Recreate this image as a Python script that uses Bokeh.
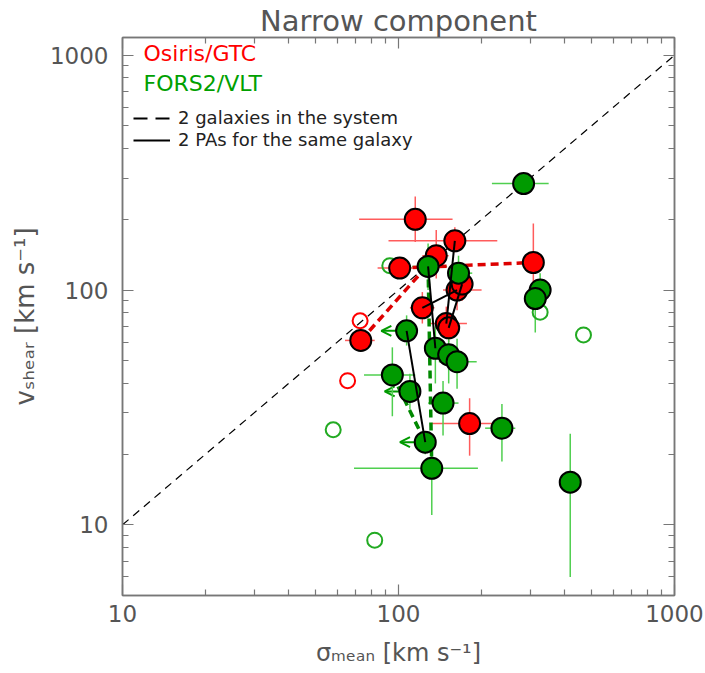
import math
from bokeh.plotting import figure
from bokeh.models import (LogAxis, FixedTicker, Label, Legend, LegendItem, Arrow,
                          OpenHead, ColumnDataSource, NumeralTickFormatter,
                          CustomJSTickFormatter)
from bokeh.embed import file_html
from bokeh.resources import INLINE

FONT = "DejaVu Sans"

# ---- Osiris/GTC: filled symbols (sigma_mean, v_shear) with error ranges ----
osiris_sigma    = [115, 160, 137, 101, 308, 163, 170, 122, 149, 152, 73, 181]
osiris_vshear   = [200, 162, 140, 124, 131, 100, 106, 84, 72, 69, 61, 27]
osiris_sigma_lo = [72, 92, 122, 84, 295, 145, 158, 110, 129, 140, 64, 132]
osiris_sigma_hi = [157, 228, 152, 118, 320, 200, 185, 135, 177, 165, 82, 218]
osiris_v_lo     = [160, 145, 112, 115, 92, 82, 90, 72, 62, 60, 57, 19.7]
osiris_v_hi     = [250, 185, 180, 134, 192, 112, 120, 98, 85, 80, 65, 34.6]
# Osiris/GTC: open symbols
osiris_open_sigma  = [72.6, 65.4]
osiris_open_vshear = [74, 41.1]
# index pairs: two PAs of one galaxy / two galaxies of one system
osiris_pa_pairs     = [(7, 5), (8, 1), (9, 6)]
osiris_system_pairs = [(3, 4), (10, 2)]

# ---- FORS2/VLT: filled symbols ----
fors_sigma    = [284, 128, 165, 326, 313, 107, 136, 152, 163, 95, 110, 145, 237, 125, 132, 419]
fors_vshear   = [284, 126, 118, 100, 92, 67, 56.5, 53, 49.5, 43.5, 37, 33, 25.8, 22.5, 17.4, 15.2]
fors_sigma_lo = [218, 112, 150, 310, 300, 107, 125, 140, 140, 75, 110, 128, 206, 125, 69, 405]
fors_sigma_hi = [350, 150, 185, 340, 325, 107, 148, 165, 192, 115, 110, 165, 265, 125, 194, 433]
fors_v_lo     = [265, 100, 100, 85, 66, 58, 40, 40, 38, 29, 31, 24, 18.6, 20, 11, 6.0]
fors_v_hi     = [305, 158, 140, 118, 110, 78, 70, 62, 62, 57, 44, 41, 32.7, 25, 23, 24.4]
fors_upper    = [False, False, False, False, False, True, False, False, False, False,
                 True, False, False, True, False, False]
# FORS2/VLT: open symbols
fors_open_sigma  = [93, 326, 468, 58, 82]
fors_open_vshear = [127, 80.4, 64.4, 25.4, 8.6]
fors_pa_pairs     = [(1, 6), (5, 13)]
fors_system_pairs = [(9, 13), (1, 14)]

# one-to-one reference line
one_to_one = [10, 1000]

RED, RED_ERR = "#ff0000", "#ff5c5c"
GREEN, GREEN_ERR, GREEN_TXT = "#009a00", "#4fcf4f", "#00a000"
GREY = "#555555"

# frame placement inside the 705 x 673 canvas
F_LEFT, F_TOP, F_RIGHT, F_BOTTOM = 122, 37, 674, 595

p = figure(width=705, height=673, x_axis_type="log", y_axis_type="log",
           x_range=(10, 1000), y_range=(5, 1190),
           output_backend="svg", toolbar_location=None,
           min_border_left=F_LEFT, min_border_right=705 - F_RIGHT,
           min_border_top=F_TOP, min_border_bottom=673 - F_BOTTOM)
p.grid.visible = False
p.outline_line_color = "#777777"
p.outline_line_width = 1.5

p.title.text = "Narrow component"
p.title.align = "center"
p.title.text_font = FONT
p.title.text_font_size = "29px"
p.title.text_font_style = "normal"
p.title.text_color = GREY
p.title.text_line_height = 0.7
p.title.standoff = 0
p.title.offset = 0

xt = FixedTicker(ticks=[10, 100, 1000],
                 minor_ticks=[m * d for d in (10, 100) for m in range(2, 10)])
yt = FixedTicker(ticks=[10, 100, 1000],
                 minor_ticks=[m * d for d in (1, 10, 100) for m in range(2, 10) if m * d >= 5])


def style_axis(ax, ticker, labels):
    ax.ticker = ticker
    ax.axis_line_color = "#777777"
    ax.axis_line_width = 1.5
    ax.major_tick_line_color = "#777777"
    ax.minor_tick_line_color = "#777777"
    ax.major_tick_line_width = 1.2
    ax.minor_tick_line_width = 1.2
    ax.major_tick_in, ax.major_tick_out = 11, 0
    ax.minor_tick_in, ax.minor_tick_out = 6, 0
    if labels:
        ax.formatter = NumeralTickFormatter(format="0")
        ax.major_label_text_font = FONT
        ax.major_label_text_font_size = "23px"
        ax.major_label_text_color = GREY
        ax.axis_label_text_font = FONT
        ax.axis_label_text_font_style = "normal"
        ax.axis_label_text_color = GREY
    else:
        ax.formatter = CustomJSTickFormatter(code="return ''")
        ax.major_label_text_font_size = "0px"
        ax.major_label_standoff = 0


style_axis(p.xaxis[0], xt, True)
p.xaxis[0].major_label_standoff = 9
p.xaxis[0].axis_label = "\u03c3\u2098\u2091\u2090\u2099 [km s\u207b\u00b9]"
p.xaxis[0].axis_label_text_font_size = "24px"
p.xaxis[0].axis_label_standoff = 14
style_axis(p.yaxis[0], yt, True)
p.yaxis[0].major_label_standoff = 14
p.yaxis[0].axis_label = "v\u209b\u2095\u2091\u2090\u1d63 [km s\u207b\u00b9]"
p.yaxis[0].axis_label_text_font_size = "26px"
p.yaxis[0].axis_label_standoff = 7

top_ax = LogAxis()
style_axis(top_ax, xt, False)
p.add_layout(top_ax, "above")
right_ax = LogAxis()
style_axis(right_ax, yt, False)
p.add_layout(right_ax, "right")

# 1:1 line
p.line(one_to_one, one_to_one, line_color="black", line_width=1.2, line_dash="8 6")

# error bars
for s, v, slo, shi, vlo, vhi, col in (
        (osiris_sigma, osiris_vshear, osiris_sigma_lo, osiris_sigma_hi, osiris_v_lo, osiris_v_hi, RED_ERR),
        (fors_sigma, fors_vshear, fors_sigma_lo, fors_sigma_hi, fors_v_lo, fors_v_hi, GREEN_ERR)):
    p.segment(x0=slo, y0=v, x1=shi, y1=v, line_color=col, line_width=1.5)
    p.segment(x0=s, y0=vlo, x1=s, y1=vhi, line_color=col, line_width=1.5)

# upper limits on sigma: arrows pointing left
lim = [i for i, u in enumerate(fors_upper) if u]
arr_src = ColumnDataSource(dict(
    x0=[fors_sigma[i] for i in lim],
    x1=[fors_sigma[i] * 0.81 for i in lim],
    y=[fors_vshear[i] for i in lim]))
p.add_layout(Arrow(end=OpenHead(size=10, line_color=GREEN, line_width=2),
                   x_start="x0", y_start="y", x_end="x1", y_end="y",
                   source=arr_src, line_color=GREEN, line_width=2, level="underlay"))


def pair_segments(pairs, xs, ys):
    return ([xs[a] for a, b in pairs], [ys[a] for a, b in pairs],
            [xs[b] for a, b in pairs], [ys[b] for a, b in pairs])


# two galaxies in the same system (dashed, drawn below the symbols)
x0, y0, x1, y1 = pair_segments(osiris_system_pairs, osiris_sigma, osiris_vshear)
p.segment(x0=x0, y0=y0, x1=x1, y1=y1, line_color="#dd0000", line_width=3.5, line_dash="8 5")
x0, y0, x1, y1 = pair_segments(fors_system_pairs, fors_sigma, fors_vshear)
p.segment(x0=x0, y0=y0, x1=x1, y1=y1, line_color="#008800", line_width=3.5, line_dash="8 5")

# open symbols
p.scatter(osiris_open_sigma, osiris_open_vshear, marker="circle", size=15,
          fill_color=None, line_color=RED, line_width=2)
p.scatter(fors_open_sigma, fors_open_vshear, marker="circle", size=15,
          fill_color=None, line_color="#22aa22", line_width=2)

# filled symbols
p.scatter(osiris_sigma, osiris_vshear, marker="circle", size=21,
          fill_color=RED, line_color="black", line_width=2)
p.scatter(fors_sigma, fors_vshear, marker="circle", size=21,
          fill_color=GREEN, line_color="black", line_width=2)

# two position angles of one galaxy (solid black, on top)
for pairs, xs, ys in ((osiris_pa_pairs, osiris_sigma, osiris_vshear),
                      (fors_pa_pairs, fors_sigma, fors_vshear)):
    x0, y0, x1, y1 = pair_segments(pairs, xs, ys)
    p.segment(x0=x0, y0=y0, x1=x1, y1=y1, line_color="black", line_width=2)

# legend for the line styles (sample renderers lie outside the visible range)
dash_r = p.line([1, 1], [1, 1], line_color="black", line_width=2, line_dash="14 8")
solid_r = p.line([1, 1], [1, 1], line_color="black", line_width=2)
leg = Legend(items=[LegendItem(label="2 galaxies in the system", renderers=[dash_r]),
                    LegendItem(label="2 PAs for the same galaxy", renderers=[solid_r])],
             location=(11, F_BOTTOM - 150), padding=0, margin=0, spacing=1,
             glyph_width=37, glyph_height=20, label_height=20, label_standoff=8,
             label_text_font=FONT, label_text_font_size="18px", label_text_color="#222222",
             background_fill_alpha=0, border_line_alpha=0)
p.add_layout(leg)


def put(text, cx, cy, size, color=GREY):
    p.add_layout(Label(x=cx - F_LEFT, y=F_BOTTOM - cy, x_units="screen", y_units="screen",
                       text=text, text_font=FONT, text_font_size=size, text_color=color,
                       text_align="left", text_baseline="middle"))


# instrument labels
put("Osiris/GTC", 143, 53, "22px", RED)
put("FORS2/VLT", 143, 83, "22px", GREEN_TXT)

open("out.html", "w").write(file_html(p, INLINE))
